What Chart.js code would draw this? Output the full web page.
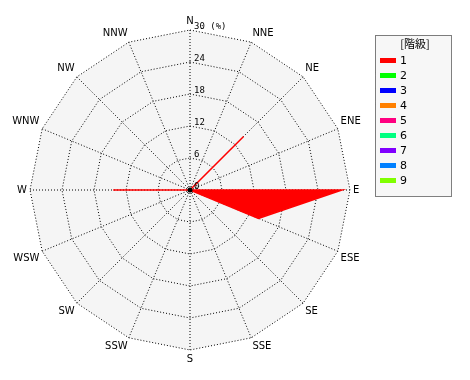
<!DOCTYPE html>
<html><head><meta charset="utf-8">
<script src="https://cdn.jsdelivr.net/npm/chart.js@4.4.0/dist/chart.umd.min.js"></script>
<style>
html,body{margin:0;padding:0;background:#fff;}
#wrap{position:relative;width:470px;height:380px;}
#c{position:absolute;left:0;top:0;}
</style></head><body>
<div id="wrap"><canvas id="c" width="470" height="380"></canvas></div>
<script>
const directions = ['N','NNE','NE','ENE','E','ESE','SE','SSE','S','SSW','SW','WSW','W','WNW','NW','NNW'];
const classLabels = ['1','2','3','4','5','6','7','8','9'];
const classColors = ['#ff0000','#00ff00','#0000ff','#ff8000','#ff0080','#00ff80','#8000ff','#0080ff','#80ff00'];
const class1 = [0,0,14.2,0,28.5,13.9,0,0,0,0,0,0,14.4,0,0,0];
const class2 = [0,0,0,0,0,0,0,0,0,0,0,0,0,0,0,0];
const class3 = [0,0,0,0,0,0,0,0,0,0,0,0,0,0,0,0];
const class4 = [0,0,0,0,0,0,0,0,0,0,0,0,0,0,0,0];
const class5 = [0,0,0,0,0,0,0,0,0,0,0,0,0,0,0,0];
const class6 = [0,0,0,0,0,0,0,0,0,0,0,0,0,0,0,0];
const class7 = [0,0,0,0,0,0,0,0,0,0,0,0,0,0,0,0];
const class8 = [0,0,0,0,0,0,0,0,0,0,0,0,0,0,0,0];
const class9 = [0,0,0,0,0,0,0,0,0,0,0,0,0,0,0,0];
const tickValues = [0,6,12,18,24,30];
const tickLabels = ['0','6','12','18','24','30 (%)'];
const legendTitle = '[階級]';

const series = [class1,class2,class3,class4,class5,class6,class7,class8,class9];
const FONT = '"DejaVu Sans", sans-serif';
const MONO = '"DejaVu Sans Mono", monospace';

const bgPlugin = {
  id:'bgPoly',
  beforeDraw(chart){
    const s = chart.scales.r; const ctx = chart.ctx;
    const n = directions.length;
    ctx.save();
    ctx.fillStyle = '#f5f5f5';
    ctx.beginPath();
    for(let i=0;i<n;i++){
      const p = s.getPointPositionForValue(i, s.max);
      if(i===0) ctx.moveTo(p.x,p.y); else ctx.lineTo(p.x,p.y);
    }
    ctx.closePath();
    ctx.fill();
    ctx.restore();
  },
  afterDraw(chart){
    const s = chart.scales.r; const ctx = chart.ctx;
    ctx.save();
    ctx.fillStyle = '#000';
    ctx.font = '9px ' + MONO;
    ctx.textAlign = 'left';
    ctx.textBaseline = 'bottom';
    tickValues.forEach((v,i)=>{
      const y = s.yCenter - s.getDistanceFromCenterForValue(v);
      ctx.fillText(tickLabels[i], s.xCenter + 4, y + 1);
    });
    ctx.beginPath();
    ctx.arc(s.xCenter, s.yCenter, 2.5, 0, Math.PI*2);
    ctx.fill();
    // legend
    const lx = 375, ly = 35, lw = 76, lh = 161;
    ctx.fillStyle = '#f7f7f7';
    ctx.fillRect(lx, ly, lw, lh);
    ctx.strokeStyle = '#000';
    ctx.lineWidth = 1;
    ctx.setLineDash([1,1]);
    ctx.strokeRect(lx+0.5, ly+0.5, lw, lh);
    ctx.setLineDash([]);
    ctx.fillStyle = '#000';
    ctx.font = '11px "Noto Sans CJK JP", ' + FONT;
    ctx.textAlign = 'center';
    ctx.textBaseline = 'middle';
    ctx.fillText(legendTitle, lx + lw/2 + 2, ly + 9);
    ctx.textAlign = 'left';
    chart.data.datasets.forEach((d,i)=>{
      const y = 60 + i*15;
      ctx.fillStyle = d.borderColor;
      ctx.fillRect(380, y-2, 16, 5);
      ctx.fillStyle = '#000';
      ctx.font = '11px ' + FONT;
      ctx.fillText(d.label, 400, y+1);
    });
    ctx.restore();
  }
};

new Chart(document.getElementById('c'), {
  type:'radar',
  data:{
    labels: directions,
    datasets: series.map((vals,i)=>({
      label: classLabels[i],
      data: vals,
      borderColor: classColors[i],
      backgroundColor: classColors[i],
      borderWidth: i===0 ? 1.5 : 1,
      fill: true,
      pointRadius: 0,
      pointHoverRadius: 0
    }))
  },
  options:{
    responsive:false,
    animation:false,
    events:[],
    layout:{padding:{left:0,right:94,top:15,bottom:15}},
    plugins:{legend:{display:false},tooltip:{enabled:false}},
    elements:{line:{tension:0}},
    scales:{
      r:{
        min:0,max:30,
        startAngle:0,
        ticks:{display:false,stepSize:6},
        grid:{color:'#000',lineWidth:1},
        border:{dash:[1,2]},
        angleLines:{color:'#000',lineWidth:1,borderDash:[1,2]},
        pointLabels:{color:'#000',font:{family:FONT,size:10},padding:3}
      }
    }
  },
  plugins:[bgPlugin]
});
</script>
</body></html>
